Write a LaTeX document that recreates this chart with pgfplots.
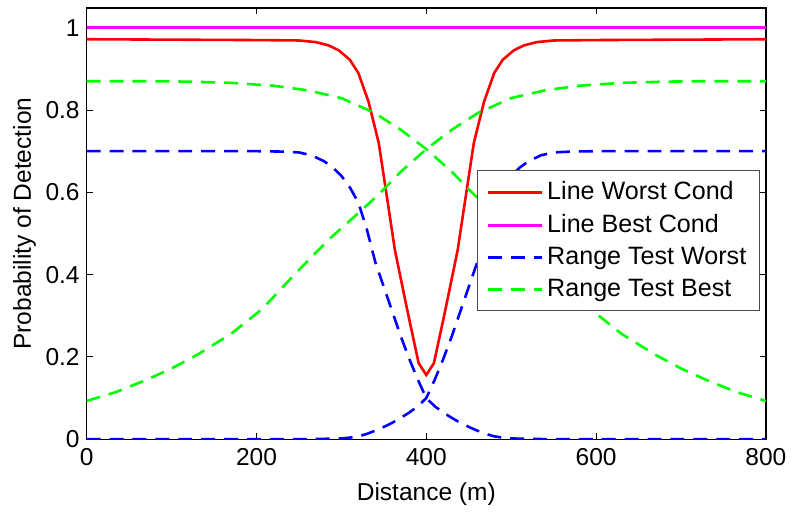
\documentclass[border=0pt]{standalone}
\usepackage{fontspec}
\setmainfont{Liberation Sans}
\usepackage{pgfplots}
\pgfplotsset{compat=1.18}
\definecolor{mred}{RGB}{255,0,0}
\definecolor{mmag}{RGB}{255,0,255}
\definecolor{mblue}{RGB}{0,0,255}
\definecolor{mgreen}{RGB}{0,255,0}
\begin{document}
\begin{tikzpicture}
\begin{axis}[
  width=341pt, height=216.5pt, scale only axis,
  xmin=0, xmax=800, ymin=0, ymax=1.048,
  xtick={0,200,400,600,800},
  ytick={0,0.2,0.4,0.6,0.8,1},
  yticklabels={0,0.2,0.4,0.6,0.8,1},
  tick align=inside, major tick length=3pt,
  axis line style={line width=0.6pt},
  every tick/.style={black, line width=0.5pt},
  /pgf/number format/assume math mode=true,
  font=\fontsize{12.3}{14}\selectfont,
  tick label style={font=\fontsize{12.3}{14}\selectfont},
  xticklabel style={yshift=-1pt},
  xlabel={Distance (m)}, ylabel={Probability of Detection},
  xlabel style={yshift=-1.5pt},
  ylabel style={yshift=-2pt},
  legend style={at={(0.991,0.624)}, anchor=north east, draw=black!70, line width=0.6pt,
    font=\fontsize{12.6}{14}\selectfont, row sep=1.9pt, inner xsep=4.5pt, inner ysep=3.5pt},
  legend cell align=left,
  legend image code/.code={\draw[#1] (0cm,0cm) -- (27pt,0cm);},
]
\addplot[mred, line width=1.3pt] coordinates {
(0,0.972)(100,0.971)(200,0.970)(250,0.969)(270,0.965)(285,0.957)(297,0.945)(310,0.922)(320,0.890)(332,0.820)(344,0.720)(355,0.570)(363,0.460)(371,0.380)(379,0.300)(391,0.185)(400,0.156)(409,0.185)(421,0.300)(429,0.380)(437,0.460)(445,0.570)(456,0.720)(468,0.820)(480,0.890)(490,0.922)(503,0.945)(515,0.957)(530,0.965)(550,0.969)(600,0.970)(700,0.971)(800,0.972)};
\addlegendentry{Line Worst Cond}
\addplot[mmag, line width=1.4pt] coordinates {(0,1)(800,1)};
\addlegendentry{Line Best Cond}
\addplot[mblue, line width=1.3pt, dash pattern=on 7pt off 4.5pt] coordinates {
(0,0.700)(100,0.700)(200,0.700)(230,0.699)(250,0.697)(265,0.690)(280,0.675)(290,0.660)(300,0.640)(310,0.612)(320,0.575)(330,0.510)(340,0.430)(350,0.370)(360,0.310)(370,0.250)(380,0.195)(390,0.145)(400,0.100)(410,0.080)(420,0.065)(430,0.052)(440,0.040)(450,0.030)(460,0.021)(470,0.013)(480,0.007)(490,0.004)(500,0.002)(520,0.001)(550,0)(800,0)};
\addlegendentry{Range Test Worst}
\addplot[mgreen, line width=1.3pt, dash pattern=on 7pt off 4.5pt] coordinates {
(0,0.093)(35,0.115)(70,0.144)(100,0.172)(130,0.205)(170,0.256)(207,0.317)(246,0.403)(285,0.485)(324,0.557)(344,0.595)(370,0.650)(400,0.705)(430,0.752)(461,0.793)(500,0.829)(540,0.848)(580,0.859)(630,0.866)(680,0.869)(730,0.870)(800,0.870)};
\addlegendentry{Range Test Best}
\addplot[mblue, line width=1.3pt, dash pattern=on 7pt off 4.5pt, forget plot] coordinates {
(0,0)(250,0)(280,0.001)(300,0.002)(310,0.004)(320,0.007)(330,0.013)(340,0.021)(350,0.030)(360,0.040)(370,0.052)(380,0.065)(390,0.080)(400,0.100)(410,0.145)(420,0.195)(430,0.250)(440,0.310)(450,0.370)(460,0.430)(470,0.510)(480,0.575)(490,0.612)(500,0.640)(510,0.660)(520,0.675)(535,0.690)(550,0.697)(570,0.699)(600,0.700)(700,0.700)(800,0.700)};
\addplot[mgreen, line width=1.3pt, dash pattern=on 7pt off 4.5pt, forget plot] coordinates {
(0,0.870)(70,0.870)(120,0.869)(170,0.866)(220,0.859)(260,0.848)(300,0.829)(339,0.793)(370,0.752)(400,0.705)(430,0.650)(456,0.595)(476,0.557)(515,0.485)(554,0.403)(593,0.317)(630,0.256)(670,0.205)(700,0.172)(730,0.144)(765,0.115)(800,0.093)};
\end{axis}
\path ([shift={(-43.5pt,-32.5pt)}]current axis.south west) rectangle ([shift={(12pt,4pt)}]current axis.north east);
\end{tikzpicture}
\end{document}
